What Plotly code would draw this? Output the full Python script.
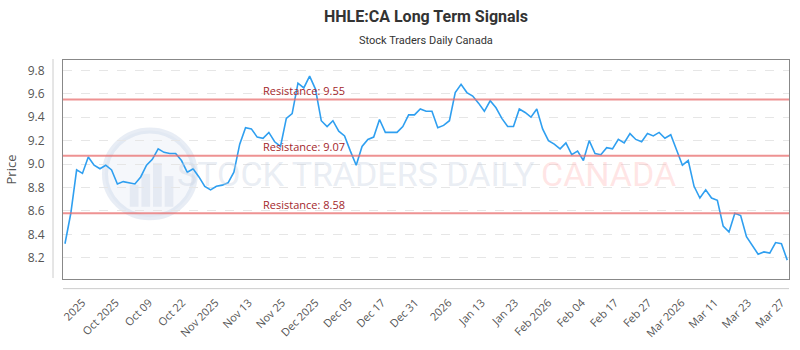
import numpy as np
import plotly.graph_objects as go

prices = [
    8.32, 8.58, 8.95, 8.92, 9.06, 8.99, 8.96, 8.99, 8.95, 8.83, 8.85, 8.84, 8.83, 8.89, 8.99, 9.04,
    9.13, 9.10, 9.09, 9.09, 9.03, 8.93, 8.96, 8.89, 8.81, 8.78, 8.81, 8.82, 8.84, 8.93, 9.17,
    9.31, 9.30, 9.23, 9.22, 9.27, 9.19, 9.15, 9.39, 9.43, 9.69, 9.65, 9.75, 9.64, 9.37, 9.32, 9.37,
    9.28, 9.24, 9.11, 8.99, 9.15, 9.21, 9.23, 9.38, 9.27, 9.27, 9.27, 9.32, 9.42, 9.42, 9.47, 9.45,
    9.45, 9.31, 9.33, 9.37, 9.61, 9.68, 9.61, 9.58, 9.52, 9.45, 9.54, 9.48, 9.39, 9.32, 9.32, 9.47,
    9.44, 9.40, 9.47, 9.30, 9.20, 9.17, 9.13, 9.18, 9.08, 9.11, 9.03, 9.20, 9.09, 9.08, 9.14,
    9.13, 9.21, 9.18, 9.26, 9.21, 9.19, 9.26, 9.24, 9.27, 9.22, 9.25, 9.12, 8.99, 9.03, 8.81, 8.71,
    8.78, 8.71, 8.69, 8.47, 8.42, 8.58, 8.56, 8.38, 8.31, 8.23, 8.25, 8.24, 8.33, 8.32, 8.18,
]
tick_labels = ["2025", "Oct 2025", "Oct 09", "Oct 22", "Nov 2025", "Nov 13", "Nov 25", "Dec 2025",
               "Dec 05", "Dec 17", "Dec 31", "2026", "Jan 13", "Jan 23", "Feb 2026", "Feb 04",
               "Feb 17", "Feb 27", "Mar 2026", "Mar 11", "Mar 23", "Mar 27"]
resistance = [9.55, 9.07, 8.58]
y_ticks = [8.2, 8.4, 8.6, 8.8, 9.0, 9.2, 9.4, 9.6, 9.8]

x = list(range(len(prices)))
tickvals = list(np.linspace(3.0, 123.0, len(tick_labels)))

fig = go.Figure()
fig.add_trace(go.Scatter(x=x, y=prices, mode="lines",
                         line=dict(color="#2f9ff0", width=1.6), hoverinfo="skip"))

# resistance lines
for r in resistance:
    fig.add_shape(type="line", xref="paper", x0=0, x1=1, yref="y", y0=r, y1=r,
                  line=dict(color="rgba(232,110,110,0.75)", width=2), layer="above")
    fig.add_annotation(x=0, xref="paper", xshift=198, y=r, yref="y", yshift=9,
                       text=f"Resistance: {r:.2f}", showarrow=False, xanchor="left",
                       font=dict(family="Open Sans, DejaVu Sans", size=11, color="#a3262b"))

# watermark
fig.add_shape(type="circle", xref="paper", yref="paper", x0=0.0578, x1=0.1816, y0=0.282, y1=0.678,
              line=dict(color="rgba(205,215,232,0.45)", width=6), fillcolor="rgba(225,232,244,0.35)",
              layer="below")
for bx, bh in [(0.092, 0.10), (0.108, 0.15), (0.124, 0.20), (0.140, 0.14)]:
    fig.add_shape(type="rect", xref="paper", yref="paper", x0=bx, x1=bx + 0.012, y0=0.33, y1=0.33 + bh,
                  line=dict(width=0), fillcolor="rgba(200,210,228,0.35)", layer="below")
fig.add_annotation(x=(175 - 63) / 727, y=0.48, xref="paper", yref="paper", text="STOCK TRADERS DAILY",
                   showarrow=False, xanchor="left",
                   font=dict(family="Roboto", size=34, color="rgba(200,210,226,0.40)"))
fig.add_annotation(x=(540 - 63) / 727, y=0.48, xref="paper", yref="paper", text="CANADA",
                   showarrow=False, xanchor="left",
                   font=dict(family="Roboto", size=34, color="rgba(255,180,180,0.35)"))

# titles
fig.add_annotation(x=0.5, y=15, xref="paper", yref="paper", text="<b>HHLE:CA Long Term Signals</b>",
                   showarrow=False, yanchor="middle", xanchor="center",
                   font=dict(family="Roboto, DejaVu Sans", size=16, color="#333333"))
fig.add_annotation(x=0.5, y=15, xref="paper", yref="paper", text="Stock Traders Daily Canada",
                   showarrow=False, yanchor="middle", xanchor="center",
                   font=dict(family="Roboto, DejaVu Sans", size=11, color="#333333"))

# offset axis lines
fig.add_shape(type="line", xref="paper", yref="paper", x0=-0.01376, x1=-0.01376, y0=0.0044, y1=1.0044,
              line=dict(color="#cccccc", width=1))
fig.add_shape(type="line", xref="paper", yref="paper", x0=0, x1=1, y0=-0.044, y1=-0.044,
              line=dict(color="#cccccc", width=1))

H = 227.0
fig.layout.annotations[-2].update(y=1 + (60 - 15) / H)
fig.layout.annotations[-1].update(y=1 + (60 - 40) / H)

fig.update_layout(
    width=800, height=350,
    margin=dict(l=63, r=10, t=60, b=63),
    paper_bgcolor="white", plot_bgcolor="white",
    showlegend=False,
    xaxis=dict(range=[-0.34, 124.3], tickvals=tickvals, ticktext=tick_labels, tickangle=-45,
               showgrid=False, zeroline=False, showline=True, mirror=True, linecolor="#888888",
               linewidth=1, ticks="", ticklabelstandoff=12,
               tickfont=dict(family="Open Sans, DejaVu Sans", size=11, color="#555555")),
    yaxis=dict(range=[8.019, 9.888], tickvals=y_ticks, ticktext=[f"{v:.1f}" for v in y_ticks],
               showgrid=True, gridcolor="#e6e6e6", griddash="dash", zeroline=False,
               showline=True, mirror=True, linecolor="#888888", linewidth=1, ticks="",
               ticklabelstandoff=15,
               title=dict(text="Price", font=dict(family="Open Sans, DejaVu Sans", size=13, color="#555555"), standoff=8),
               tickfont=dict(family="Open Sans, DejaVu Sans", size=12, color="#555555")),
)

fig.write_html("out.html")
